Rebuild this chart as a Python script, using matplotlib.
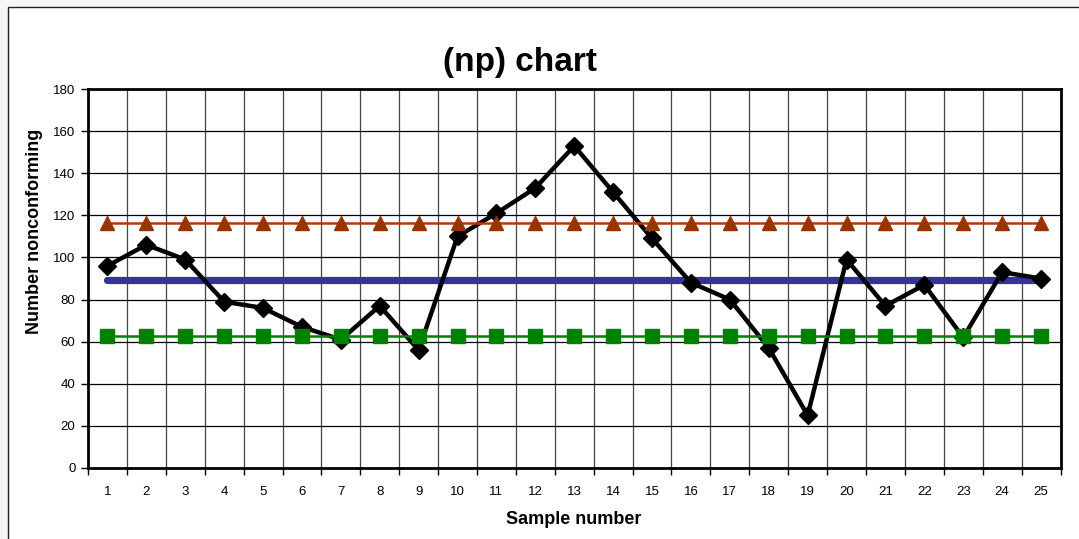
import matplotlib
matplotlib.use("Agg")
import matplotlib.pyplot as plt
from matplotlib.patches import Rectangle
from matplotlib.ticker import FixedLocator, NullFormatter

plt.rcParams['font.family'] = ['Liberation Sans', 'DejaVu Sans']

# Sample data for the np control chart
samples = list(range(1, 26))
nonconforming = [96, 106, 99, 79, 76, 67, 61, 77, 56, 110,
                 121, 133, 153, 131, 109, 88, 80, 57, 25, 99,
                 77, 87, 62, 93, 90]
center_line = 89.4
ucl = 116.2
lcl = 62.6
y_ticks = list(range(0, 181, 20))

W, H = 1079, 539
fig = plt.figure(figsize=(W / 100, H / 100), dpi=100)
fig.patch.set_facecolor('#f6f6f6')

# White chart area with a thin border
frame = Rectangle((8 / W, -0.05), 1.1, 1 - 7 / H + 0.05, transform=fig.transFigure,
                  facecolor='white', edgecolor='#222222', linewidth=1.0, zorder=-10)
fig.add_artist(frame)

ax = fig.add_axes([88 / W, 1 - 468 / H, (1060.5 - 88) / W, (468 - 89) / H])
ax.set_facecolor('white')

n = len(samples)
ax.plot(samples, [center_line] * n, color='#333399', linewidth=5.2,
        solid_capstyle='round', zorder=3)
ax.plot(samples, nonconforming, color='black', linewidth=3.2, marker='D',
        markersize=9.5, markerfacecolor='black', markeredgecolor='black', zorder=4)
ax.plot(samples, [ucl] * n, color='#B23A0A', linewidth=1.8, marker='^',
        markersize=10.5, markerfacecolor='#993300', markeredgecolor='#993300', zorder=5)
ax.plot(samples, [lcl] * n, color='#008000', linewidth=1.8, marker='s',
        markersize=10.3, markerfacecolor='#008000', markeredgecolor='#008000', zorder=5)

ax.set_xlim(0.5, n + 0.5)
ax.set_ylim(0, 180)
ax.set_yticks(y_ticks)
ax.set_xticks(samples)
ax.set_xticklabels([str(s) for s in samples])
ax.xaxis.set_minor_locator(FixedLocator([i + 0.5 for i in range(0, n + 1)]))
ax.xaxis.set_minor_formatter(NullFormatter())

ax.tick_params(axis='x', which='major', length=0, pad=13, labelsize=9.5)
ax.tick_params(axis='x', which='minor', length=5, width=1, direction='out')
ax.tick_params(axis='y', which='major', length=5, width=1, direction='out',
               pad=4, labelsize=9.5)

ax.grid(True, axis='y', which='major', color='black', linewidth=0.9)
ax.grid(True, axis='x', which='minor', color='#444444', linewidth=0.9)
ax.set_axisbelow(True)

for side in ['left', 'bottom', 'top', 'right']:
    ax.spines[side].set_linewidth(2.0)
    ax.spines[side].set_color('black')

fig.text(520 / W, 1 - 62 / H, '(np) chart', ha='center', va='center',
         fontsize=24, fontweight='bold')
fig.text(35 / W, 1 - 231 / H, 'Number nonconforming', ha='center', va='center',
         rotation=90, fontsize=13, fontweight='bold')
fig.text(574 / W, 1 - 519 / H, 'Sample number', ha='center', va='center',
         fontsize=13, fontweight='bold')

fig.savefig('out.png', dpi=100, facecolor=fig.get_facecolor())
